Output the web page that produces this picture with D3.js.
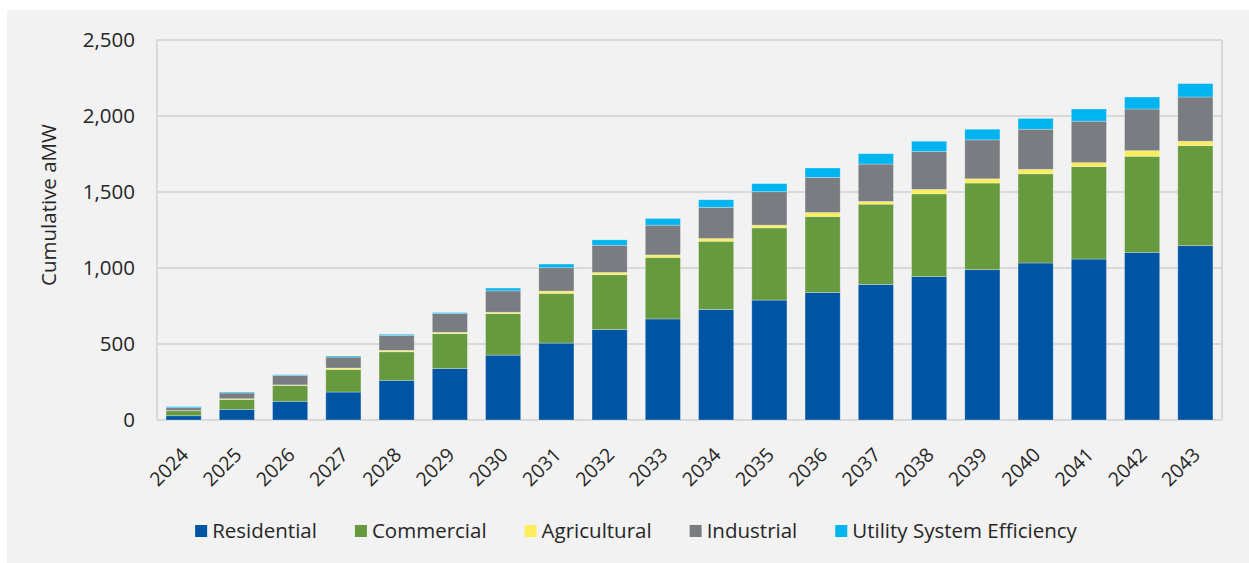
<!DOCTYPE html>
<html>
<head>
<meta charset="utf-8">
<script src="https://cdn.jsdelivr.net/npm/d3@7"></script>
<style>
  html, body { margin: 0; padding: 0; background: #ffffff; }
  svg { display: block; }
  text { font-family: "Open Sans", "Noto Sans", sans-serif; fill: #262626; }
</style>
</head>
<body>
<svg id="chart" width="1249" height="563"></svg>
<script>
// Cumulative savings by sector, aMW
const years = ["2024","2025","2026","2027","2028","2029","2030","2031","2032","2033",
               "2034","2035","2036","2037","2038","2039","2040","2041","2042","2043"];
const residential = [28, 70, 123, 184, 261, 339, 427, 506, 595, 665, 727, 789, 839, 892, 944, 989, 1033, 1059, 1103, 1147];
const commercial  = [33, 66, 105, 149, 188, 229, 273, 327, 361, 405, 449, 475, 500, 528, 544, 570, 587, 608, 632, 658];
const agricultural= [1, 4, 3, 9, 9, 9, 9, 15, 15, 16, 18, 18, 26, 18, 29, 28, 29, 26, 37, 29];
const industrial  = [19, 38, 62, 72, 99, 123, 141, 154, 179, 196, 205, 220, 231, 246, 249, 256, 264, 273, 274, 291];
const utility     = [7, 6, 5, 7, 7, 7, 18, 24, 35, 44, 50, 53, 62, 68, 68, 70, 71, 80, 79, 88];
const seriesNames = ["Residential", "Commercial", "Agricultural", "Industrial", "Utility System Efficiency"];
const seriesColors = ["#0054a4", "#679a3e", "#fcee5a", "#797d81", "#00b5ef"];
const yTicks = [0, 500, 1000, 1500, 2000, 2500];

const svg = d3.select("#chart");

// panel background
svg.append("rect").attr("x", 7).attr("y", 10).attr("width", 1242).attr("height", 553).attr("fill", "#f2f2f2");

const plot = { left: 157, right: 1222, top: 40, bottom: 420 };

const rows = years.map((y, i) => ({
  year: y,
  "Residential": residential[i],
  "Commercial": commercial[i],
  "Agricultural": agricultural[i],
  "Industrial": industrial[i],
  "Utility System Efficiency": utility[i]
}));

const stack = d3.stack().keys(seriesNames)(rows);

const x = d3.scaleBand().domain(years).range([plot.left, plot.right]).paddingInner(0.34).paddingOuter(0.17);
const y = d3.scaleLinear().domain([0, 2500]).range([plot.bottom, plot.top]);

// gridlines
svg.append("g")
  .selectAll("line").data(yTicks).join("line")
  .attr("x1", plot.left).attr("x2", plot.right)
  .attr("y1", d => y(d)).attr("y2", d => y(d))
  .attr("stroke", "#d9d9d9").attr("stroke-width", 2);

// plot frame sides
svg.append("line").attr("x1", plot.left).attr("x2", plot.left).attr("y1", plot.top).attr("y2", plot.bottom)
  .attr("stroke", "#d9d9d9").attr("stroke-width", 2);
svg.append("line").attr("x1", plot.right).attr("x2", plot.right).attr("y1", plot.top).attr("y2", plot.bottom)
  .attr("stroke", "#d9d9d9").attr("stroke-width", 2);

// stacked bars
svg.append("g")
  .selectAll("g").data(stack).join("g")
  .attr("fill", (d, i) => seriesColors[i])
  .selectAll("rect").data(d => d).join("rect")
  .attr("x", d => x(d.data.year))
  .attr("width", x.bandwidth())
  .attr("y", d => y(d[1]))
  .attr("height", d => y(d[0]) - y(d[1]))
  .attr("stroke", "rgba(255,255,255,0.35)")
  .attr("stroke-width", 0.8);

// y axis labels
const yAxis = d3.axisLeft(y).tickValues(yTicks).tickFormat(d3.format(",")).tickSize(0).tickPadding(22);
const yg = svg.append("g").attr("transform", `translate(${plot.left},0)`).call(yAxis);
yg.select(".domain").remove();
yg.selectAll("text").style("font-size", "20.5px").attr("fill", "#262626").attr("font-family", null);

// x axis labels
const xAxis = d3.axisBottom(x).tickSize(0).tickPadding(0);
const xg = svg.append("g").attr("transform", `translate(0,${plot.bottom})`).call(xAxis);
xg.select(".domain").remove();
xg.selectAll("text")
  .style("font-size", "19.5px").attr("fill", "#262626").attr("font-family", null)
  .attr("text-anchor", "end")
  .attr("dy", null).attr("y", 0)
  .attr("transform", "translate(6,36) rotate(-45)");

// y axis title
svg.append("text")
  .attr("transform", "translate(56,205) rotate(-90)")
  .attr("text-anchor", "middle")
  .style("font-size", "20.5px")
  .text("Cumulative aMW");

// legend
const legend = svg.append("g");
let lx = 0;
seriesNames.forEach((name, i) => {
  const g = legend.append("g").attr("transform", `translate(${lx},0)`);
  g.append("rect").attr("x", 0).attr("y", -13).attr("width", 12).attr("height", 12).attr("fill", seriesColors[i]);
  const t = g.append("text").attr("x", 17).attr("y", 0).style("font-size", "20.5px").text(name);
  const w = t.node().getComputedTextLength();
  lx += 17 + w + 38;
});
const totalW = lx - 38;
legend.attr("transform", `translate(${636 - totalW / 2},538)`);
</script>
</body>
</html>
